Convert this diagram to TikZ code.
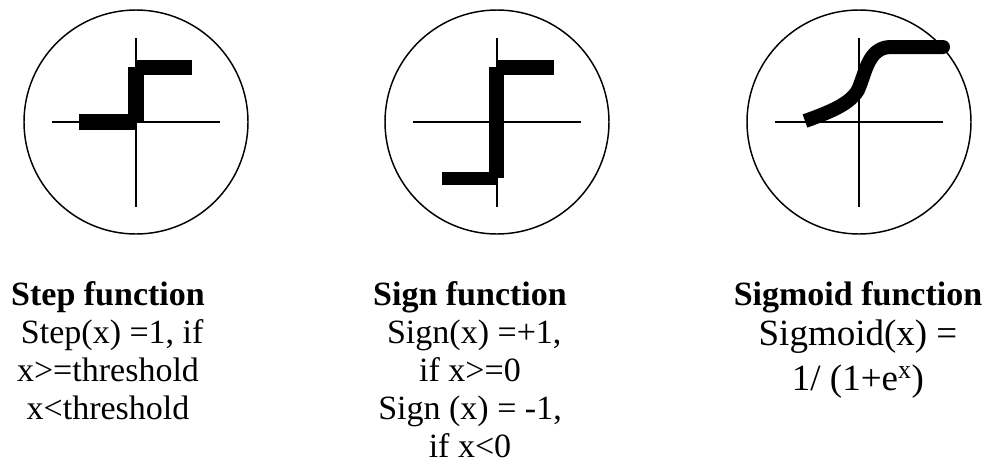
\documentclass[tikz,border=0pt]{standalone}
\usepackage{fontspec}
\setmainfont{Liberation Serif}
\begin{document}
\begin{tikzpicture}[x=0.75pt, y=-0.75pt,
  every node/.style={font=\fontsize{25.5}{28.6}\selectfont, inner sep=0pt, align=center},
  rim/.style={line width=1.1pt},
  axis/.style={line width=0.8pt}]
  \useasboundingbox (0,0) rectangle (985,464);
  % circles and axes
  \foreach \cx/\nm in {136/stepc,497/signc,859/sigc} {
    \coordinate (\nm) at (\cx,122);
    \draw[rim] (\nm) circle[radius=112];
    \draw[axis] (\cx-84,122) -- (\cx+84,122);
    \draw[axis] (\cx,38) -- (\cx,207);
  }
  % step
  \fill (79,114) rectangle (136,130);
  \fill (128,67) rectangle (144,122);
  \fill (136,60) rectangle (192,75);
  % sign
  \fill (442,172) rectangle (497,185);
  \fill (489,67) rectangle (504,178);
  \fill (497,60) rectangle (554,75);
  % sigmoid
  \draw[line width=10.5pt] (805,121) .. controls (830,112) and (850,104) .. (858,90)
    .. controls (866,72) and (868,48) .. (890,47) -- (943,47);
  \fill (943,47) circle[radius=7];
  % labels
  \node[anchor=north] (steplbl) at (108,281) {\textbf{Step function}\\ \ Step(x) =1, if\\x>=threshold\\x<threshold};
  \node[anchor=north] (signlbl) at (470,281) {\textbf{Sign function}\\ \ Sign(x) =+1,\\if x>=0\\Sign (x) = -1,\\if x<0};
  \node[anchor=north, font=\fontsize{27.75}{30}\selectfont] (siglbl) at (858,281)
    {{\fontsize{25.5}{28.6}\selectfont\bfseries Sigmoid function}\\Sigmoid(x) =\\[4pt]1/ (1+e\textsuperscript{x})};
\end{tikzpicture}
\end{document}
